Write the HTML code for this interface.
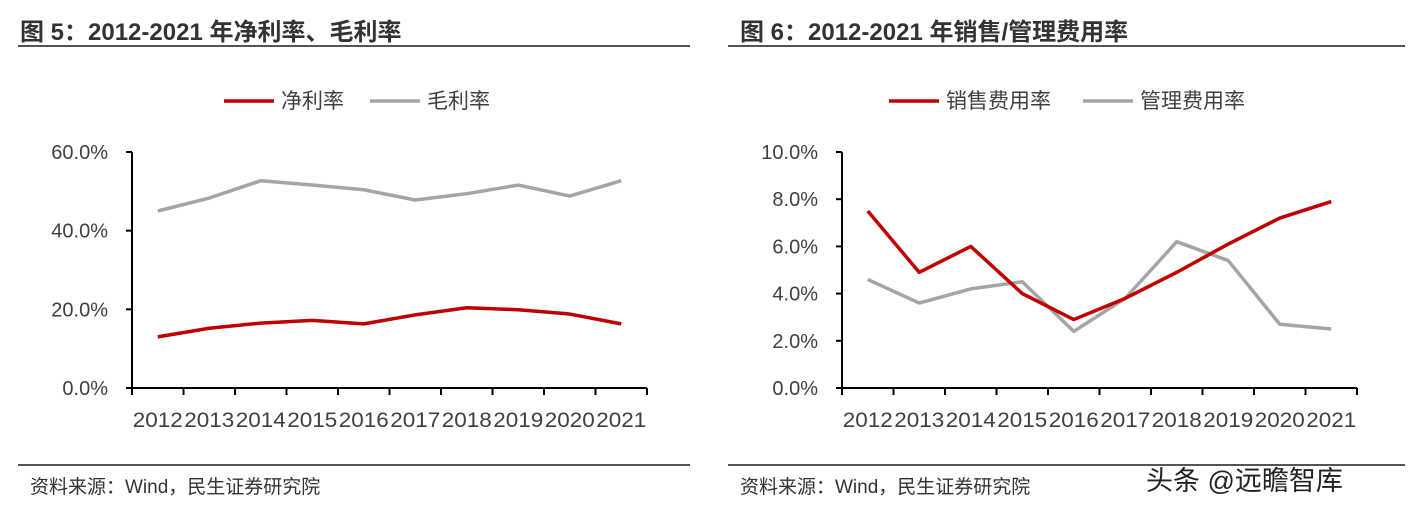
<!DOCTYPE html>
<html><head><meta charset="utf-8"><style>
body{margin:0;background:#fff;width:1421px;height:513px;overflow:hidden;font-family:"Liberation Sans","Noto Sans CJK SC",sans-serif;}
</style></head><body>
<svg id="s" width="1421" height="513" xmlns="http://www.w3.org/2000/svg" style="font-family:'Liberation Sans','Noto Sans CJK SC',sans-serif">
<text x="20" y="40" font-size="24" font-weight="bold" fill="#333">图 5：2012-2021 年净利率、毛利率</text>
<line x1="18" y1="46" x2="690" y2="46" stroke="#555" stroke-width="2"/>
<text x="740" y="40" font-size="24" font-weight="bold" fill="#333">图 6：2012-2021 年销售/管理费用率</text>
<line x1="728" y1="46" x2="1405" y2="46" stroke="#555" stroke-width="2"/>
<line x1="18" y1="465" x2="690" y2="465" stroke="#555" stroke-width="2"/>
<line x1="728" y1="465" x2="1405" y2="465" stroke="#555" stroke-width="2"/>
<text x="30" y="493" font-size="19" fill="#333">资料来源：Wind，民生证券研究院</text>
<text x="740" y="493" font-size="19" fill="#333">资料来源：Wind，民生证券研究院</text>
<text x="1146" y="490" font-size="27" fill="#222">头条 @远瞻智库</text>
<g id="c1"></g><g id="c2"></g>
</svg>
<script>
const years = ["2012","2013","2014","2015","2016","2017","2018","2019","2020","2021"];
const netMargin = [13.0,15.2,16.5,17.2,16.3,18.6,20.4,19.9,18.8,16.3];
const grossMargin = [45.0,48.3,52.7,51.6,50.4,47.8,49.4,51.6,48.8,52.7];
const salesRate = [7.5,4.9,6.0,4.0,2.9,3.8,4.9,6.1,7.2,7.9];
const adminRate = [4.6,3.6,4.2,4.5,2.4,3.8,6.2,5.4,2.7,2.5];
const leftTicks = [0,20,40,60];
const rightTicks = [0,2,4,6,8,10];
const NS="http://www.w3.org/2000/svg";
function mk(g,tag,attrs){const e=document.createElementNS(NS,tag);for(const k in attrs)e.setAttribute(k,attrs[k]);g.appendChild(e);return e;}
function chart(gid,x0,ymax,ticks,series,legend,prefix){
  const g=document.getElementById(gid);
  const y0=388,y1=152,step=51.5;
  const X=i=>x0+step*(i+0.5);
  const Y=v=>y0-(v/ymax)*(y0-y1);
  const ax=mk(g,'path',{d:`M${x0} ${y1}V${y0}H${x0+step*years.length}`,stroke:'#000','stroke-width':2,fill:'none'});
  
  
  ticks.forEach(t=>{
    const l=mk(g,'line',{x1:x0-6,x2:x0,y1:Y(t),y2:Y(t),stroke:'#000','stroke-width':2});
    
    
    const tx=mk(g,'text',{x:x0-24,y:Y(t)+7,'text-anchor':'end','font-size':20,fill:'#404040'});
    tx.textContent=t.toFixed(1)+'%';
    
    
  });
  for(let i=0;i<=years.length;i++){
    const l=mk(g,'line',{x1:x0+step*i,x2:x0+step*i,y1:y0,y2:y0+7,stroke:'#000','stroke-width':2});
    
    
  }
  years.forEach((yr,i)=>{
    const tx=mk(g,'text',{x:X(i),y:427,'text-anchor':'middle','font-size':21,fill:'#404040',textLength:50,lengthAdjust:'spacingAndGlyphs'});
    tx.textContent=yr;
    
    
  });
  series.forEach(s=>{
    const p=mk(g,'polyline',{points:s.v.map((v,i)=>X(i)+','+Y(v)).join(' '),fill:'none',stroke:s.c,'stroke-width':3.5,'stroke-linejoin':'round'});
    
    
  });
  legend.forEach(L=>{
    const l=mk(g,'line',{x1:L.x,x2:L.x+50,y1:101,y2:101,stroke:L.c,'stroke-width':3.5});
    
    
    const t=mk(g,'text',{x:L.x+57,y:108,'font-size':21,fill:'#404040'});
    t.textContent=L.t;
    
    
  });
}
chart('c1',132,60,leftTicks,[{v:grossMargin,c:'#a5a5a5',n:'gross-margin-line'},{v:netMargin,c:'#c00000',n:'net-margin-line'}],
  [{x:224,c:'#c00000',t:'净利率'},{x:370,c:'#a5a5a5',t:'毛利率'}],'left');
chart('c2',842,10,rightTicks,[{v:adminRate,c:'#a5a5a5',n:'admin-rate-line'},{v:salesRate,c:'#c00000',n:'sales-rate-line'}],
  [{x:889,c:'#c00000',t:'销售费用率'},{x:1083,c:'#a5a5a5',t:'管理费用率'}],'right');
</script>
</body></html>
